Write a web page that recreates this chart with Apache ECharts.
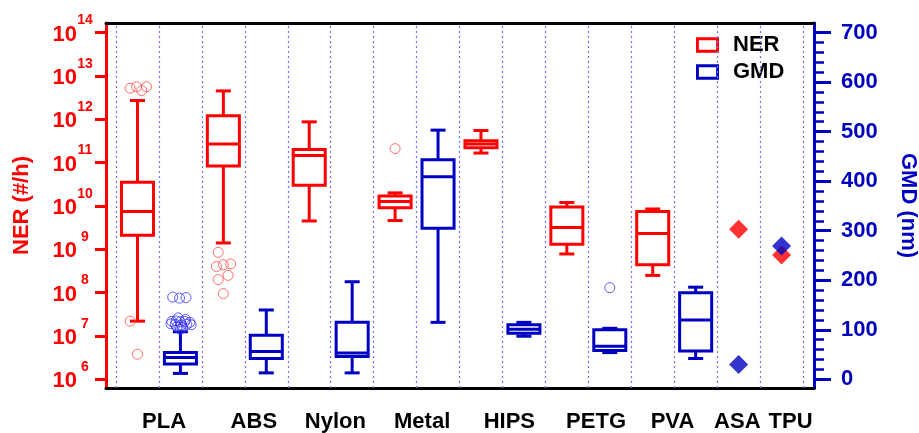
<!DOCTYPE html>
<html>
<head>
<meta charset="utf-8">
<title>NER and GMD by filament material</title>
<script src="https://cdn.jsdelivr.net/npm/echarts@6/dist/echarts.min.js"></script>
<style>
  html, body { margin: 0; padding: 0; background: #fff; }
  #chart { width: 919px; height: 433px; }
</style>
</head>
<body>
<div id="chart"></div>
<script>
// ---------------- data ----------------
const materials = ['PLA', 'ABS', 'Nylon', 'Metal', 'HIPS', 'PETG', 'PVA', 'ASA', 'TPU'];

// Box statistics for the first seven materials:
// [lower whisker, Q1, median, Q3, upper whisker]
const nerStats = [            // particle number emission rate (#/h)
  [2.2e7, 2.1e9, 7.4e9, 3.5e10, 2.7e12],      // PLA
  [1.4e9, 8.3e10, 2.7e11, 1.2e12, 4.5e12],    // ABS
  [4.5e9, 3.0e10, 1.45e11, 2.0e11, 8.7e11],   // Nylon
  [4.6e9, 9.1e9, 1.26e10, 1.7e10, 2.0e10],    // Metal
  [1.66e11, 2.2e11, 2.7e11, 3.2e11, 5.5e11],  // HIPS
  [7.8e8, 1.3e9, 3.2e9, 9.5e9, 1.2e10],       // PETG
  [2.5e8, 4.4e8, 2.3e9, 7.4e9, 8.5e9]         // PVA
];
const gmdStats = [            // geometric mean diameter (nm)
  [12, 31, 44, 54, 96],       // PLA
  [13, 42, 56, 89, 140],      // ABS
  [13, 46, 53, 115, 197],     // Nylon
  [115, 305, 409, 443, 503],  // Metal
  [87, 93, 101, 110, 115],    // HIPS
  [54, 58, 67, 100, 103],     // PETG
  [42, 57, 120, 175, 186]     // PVA
];

// Single measurements (ASA, TPU)
const nerSingle = [2.9e9, 7.4e8];
const gmdSingle = [30, 269];

// Outliers: [material index, spread inside the slot, value]
const nerOutliers = [
  [0, -0.17, 5.2e12], [0, -0.02, 5.6e12], [0, 0.10, 4.6e12], [0, 0.21, 5.6e12],
  [0, -0.17, 2.2e7], [0, 0.00, 3.8e6],
  [1, -0.12, 8.5e8], [1, -0.16, 4.0e8], [1, 0.00, 4.4e8], [1, 0.17, 4.6e8],
  [1, -0.12, 2.0e8], [1, 0.11, 2.5e8], [1, 0.00, 9.5e7],
  [3, 0.00, 2.1e11]
];
const gmdOutliers = [
  [0, -0.18, 166], [0, -0.02, 164], [0, 0.13, 165],
  [0, -0.05, 124], [0, 0.12, 121], [0, -0.20, 117], [0, -0.10, 118],
  [0, 0.00, 116], [0, 0.10, 117], [0, 0.22, 115], [0, -0.22, 112],
  [0, -0.12, 111], [0, 0.02, 110], [0, 0.15, 111], [0, 0.25, 110],
  [0, -0.08, 106], [0, 0.05, 105], [0, 0.00, 101],
  [5, 0.00, 185]
];

// Tick labels
const nerTickExponents = [6, 7, 8, 9, 10, 11, 12, 13, 14];
const gmdTicks = [0, 100, 200, 300, 400, 500, 600, 700];

// ---------------- layout & style ----------------
const RED = '#ff0000';
const BLUE = '#0000c0';
const FONT = '"Liberation Sans", Arial, Helvetica, sans-serif';

const boxCount = nerStats.length;               // materials drawn as NER/GMD box pairs
const slotCount = boxCount * 2 + nerSingle.length;
const xMin = -0.733, xMax = slotCount - 0.244;  // small margin outside the outer slots
const nerLogMin = 5.8, nerLogMax = 14.22;       // axis extent in decades
const nmPerDecade = 87.5;                       // right axis shares the left axis grid
const gmdMin = (nerLogMin - 6) * nmPerDecade;
const gmdMax = (nerLogMax - 6) * nmPerDecade;

const gmdMinorTicks = [];
for (let v = 0; v <= 700; v += 20) if (v % 100 !== 0) gmdMinorTicks.push(v);

const slotEdges = [];
for (let i = 0; i <= slotCount; i++) slotEdges.push(i - 0.5);

// category label placement along the x axis
const labelNudge = [0.12, 0.21, 0.11, 0.13, 0.16, 0.18, -0.04, -0.03, 0.21];
const labelPos = materials.map((m, i) =>
  (i < boxCount ? 2 * i + 0.5 : boxCount * 2 + (i - boxCount)) + labelNudge[i]);

const nerBoxData = nerStats.map((s, i) => [2 * i].concat(s));
const gmdBoxData = gmdStats.map((s, i) => [2 * i + 1].concat(s));
const nerOutlierData = nerOutliers.map(([m, d, v]) => [2 * m + d, v]);
const gmdOutlierData = gmdOutliers.map(([m, d, v]) => [2 * m + 1 + d, v]);
const nerSingleData = nerSingle.map((v, j) => [boxCount * 2 + j, v]);
const gmdSingleData = gmdSingle.map((v, j) => [boxCount * 2 + j, v]);

function renderBox(params, api) {
  const x = api.value(0);
  const lo = api.coord([x, api.value(1)]);
  const q1 = api.coord([x, api.value(2)]);
  const md = api.coord([x, api.value(3)]);
  const q3 = api.coord([x, api.value(4)]);
  const hi = api.coord([x, api.value(5)]);
  const slot = api.coord([x + 0.5, api.value(3)])[0] - api.coord([x - 0.5, api.value(3)])[0];
  const hb = slot * 0.373, hc = slot * 0.175, cx = md[0];
  const color = api.visual('color');
  const ls = { stroke: color, lineWidth: 3 };
  return {
    type: 'group',
    children: [
      { type: 'line', shape: { x1: cx, y1: lo[1], x2: cx, y2: q1[1] }, style: ls },
      { type: 'line', shape: { x1: cx, y1: q3[1], x2: cx, y2: hi[1] }, style: ls },
      { type: 'line', shape: { x1: cx - hc, y1: lo[1], x2: cx + hc, y2: lo[1] }, style: ls },
      { type: 'line', shape: { x1: cx - hc, y1: hi[1], x2: cx + hc, y2: hi[1] }, style: ls },
      { type: 'rect', shape: { x: cx - hb, y: q3[1], width: 2 * hb, height: q1[1] - q3[1] },
        style: { stroke: color, lineWidth: 3, fill: '#fff' } },
      { type: 'line', shape: { x1: cx - hb, y1: md[1], x2: cx + hb, y2: md[1] }, style: ls }
    ]
  };
}

const frameIcon = 'path://M0,0 H24 V16 H0 Z M3,3 V13 H21 V3 Z';

const option = {
  animation: false,
  backgroundColor: '#fff',
  grid: { left: 106, right: 105, top: 23, bottom: 45, containLabel: false, outerBoundsMode: 'none' },
  legend: {
    orient: 'vertical', left: 683, top: 28,
    backgroundColor: '#fff', padding: [6, 12, 6, 13],
    itemWidth: 23, itemHeight: 17, itemGap: 5,
    selectedMode: false,
    textStyle: { fontSize: 22, fontWeight: 'bold', color: '#000', fontFamily: FONT, padding: [0, 0, 0, 9] },
    data: [{ name: 'NER', icon: frameIcon }, { name: 'GMD', icon: frameIcon }]
  },
  xAxis: [
    {
      type: 'value', position: 'bottom', min: xMin, max: xMax,
      axisLine: { show: true, onZero: false, lineStyle: { color: '#000', width: 3 } },
      axisTick: { show: false }, splitLine: { show: false },
      axisLabel: {
        customValues: labelPos, margin: 23,
        fontSize: 22, fontWeight: 'bold', color: '#000', fontFamily: FONT,
        formatter: v => {
          const k = labelPos.findIndex(p => Math.abs(p - v) < 1e-6);
          return k >= 0 ? materials[k] : '';
        }
      }
    },
    {
      type: 'value', position: 'top', min: xMin, max: xMax,
      axisLine: { show: true, onZero: false, lineStyle: { color: '#000', width: 3 } },
      axisTick: { show: false }, axisLabel: { show: false }, splitLine: { show: false }
    }
  ],
  yAxis: [
    {
      type: 'log', logBase: 10, position: 'left',
      min: Math.pow(10, nerLogMin), max: Math.pow(10, nerLogMax),
      name: 'NER (#/h)', nameLocation: 'middle', nameGap: 73,
      nameTextStyle: { color: RED, fontSize: 22, fontWeight: 'bold', fontFamily: FONT },
      axisLine: { show: true, onZero: false, lineStyle: { color: RED, width: 3 } },
      axisTick: {
        show: true, customValues: nerTickExponents.map(e => Math.pow(10, e)),
        length: 11, lineStyle: { color: RED, width: 3 }
      },
      splitLine: { show: false }, minorTick: { show: false },
      axisLabel: {
        customValues: nerTickExponents.map(e => Math.pow(10, e)),
        margin: 13,
        padding: [24, 0, 0, 0],
        formatter: v => '{b|10}{s|' + Math.round(Math.log10(v)) + '}',
        rich: {
          b: { fontSize: 22, fontWeight: 'bold', color: RED, fontFamily: FONT,
               lineHeight: 22, verticalAlign: 'bottom', padding: [0, 0, 10, 0] },
          s: { fontSize: 14, fontWeight: 'bold', color: RED, fontFamily: FONT,
               lineHeight: 14, verticalAlign: 'bottom', padding: [0, 0, 28, 0],
               width: 16, align: 'left' }
        }
      }
    },
    {
      type: 'value', position: 'right', min: gmdMin, max: gmdMax,
      name: 'GMD (nm)', nameLocation: 'middle', nameGap: 83, nameRotate: -90,
      nameTextStyle: { color: BLUE, fontSize: 22, fontWeight: 'bold', fontFamily: FONT },
      axisLine: { show: true, onZero: false, lineStyle: { color: BLUE, width: 3 } },
      axisTick: { show: true, customValues: gmdTicks, length: 17, lineStyle: { color: BLUE, width: 3 } },
      splitLine: { show: false },
      axisLabel: {
        customValues: gmdTicks, margin: 27,
        fontSize: 22, fontWeight: 'bold', color: BLUE, fontFamily: FONT
      }
    },
    {
      type: 'value', position: 'right', min: gmdMin, max: gmdMax,
      axisLine: { show: false, onZero: false },
      axisTick: { show: true, customValues: gmdMinorTicks, length: 10, lineStyle: { color: BLUE, width: 2.5 } },
      axisLabel: { show: false }, splitLine: { show: false }
    }
  ],
  series: [
    {
      name: 'slot dividers', type: 'scatter', xAxisIndex: 0, yAxisIndex: 1,
      data: [], silent: true,
      markLine: {
        silent: true, symbol: ['none', 'none'], label: { show: false },
        lineStyle: { color: '#6f6fff', type: [2, 3], width: 1.2 },
        emphasis: { disabled: true },
        data: slotEdges.map(x => ({ xAxis: x }))
      }
    },
    {
      name: 'NER', type: 'custom', xAxisIndex: 0, yAxisIndex: 0,
      itemStyle: { color: RED }, renderItem: renderBox,
      encode: { x: 0, y: [1, 2, 3, 4, 5] }, data: nerBoxData, silent: true
    },
    {
      name: 'GMD', type: 'custom', xAxisIndex: 0, yAxisIndex: 1,
      itemStyle: { color: BLUE }, renderItem: renderBox,
      encode: { x: 0, y: [1, 2, 3, 4, 5] }, data: gmdBoxData, silent: true
    },
    {
      name: 'NER outliers', type: 'scatter', xAxisIndex: 0, yAxisIndex: 0,
      symbol: 'circle', symbolSize: 10, silent: true,
      itemStyle: { color: 'rgba(0,0,0,0)', borderColor: '#ff4a4a', borderWidth: 1 },
      data: nerOutlierData
    },
    {
      name: 'GMD outliers', type: 'scatter', xAxisIndex: 0, yAxisIndex: 1,
      symbol: 'circle', symbolSize: 10, silent: true,
      itemStyle: { color: 'rgba(0,0,0,0)', borderColor: '#3434ff', borderWidth: 1 },
      data: gmdOutlierData
    },
    {
      name: 'NER single', type: 'scatter', xAxisIndex: 0, yAxisIndex: 0,
      symbol: 'diamond', symbolSize: 19, silent: true,
      itemStyle: { color: RED }, data: nerSingleData
    },
    {
      name: 'GMD single', type: 'scatter', xAxisIndex: 0, yAxisIndex: 1,
      symbol: 'diamond', symbolSize: 19, silent: true,
      itemStyle: { color: BLUE }, data: gmdSingleData
    }
  ]
};

const chart = echarts.init(document.getElementById('chart'), null, { renderer: 'canvas' });
chart.setOption(option);
</script>
</body>
</html>
